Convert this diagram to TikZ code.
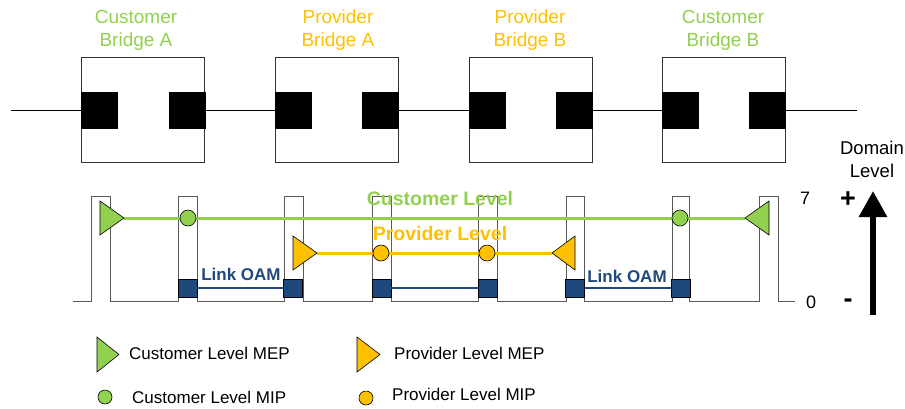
\documentclass[tikz,border=0pt]{standalone}
\usepackage{fontspec}
\setmainfont{Liberation Sans}
\usetikzlibrary{arrows.meta}
\definecolor{cgreen}{HTML}{92D050}
\definecolor{corange}{HTML}{FFC000}
\definecolor{cblue}{HTML}{1F497D}
\definecolor{cgray}{HTML}{595959}
\tikzset{
  bridgebox/.style={draw=black!80, line width=0.9pt, fill=white, minimum width=123pt, minimum height=105pt, inner sep=0pt},
  portbox/.style={fill=black, draw=black, minimum width=36pt, minimum height=36pt, inner sep=0pt},
  blabel/.style={align=center, font=\fontsize{19}{23}\selectfont, inner sep=0pt},
  oamblock/.style={fill=cblue, draw=black, line width=0.6pt, minimum width=19pt, minimum height=18pt, inner sep=0pt},
  mip/.style={circle, draw=black, line width=0.6pt, minimum size=16pt, inner sep=0pt},
  lmip/.style={circle, draw=black, line width=0.6pt, minimum size=14pt, inner sep=0pt},
  mepshape/.style={draw=black, line width=0.6pt},
  legtext/.style={anchor=west, inner sep=0pt, font=\fontsize{17}{20}\selectfont},
  lvltext/.style={inner sep=0pt, font=\bfseries\fontsize{19.5}{23}\selectfont},
  oamtext/.style={inner sep=0pt, font=\bfseries\fontsize{17}{20}\selectfont, text=cblue},
}
\begin{document}
\begin{tikzpicture}[x=1pt, y=-1pt]
\useasboundingbox (0,0) rectangle (905,408);

% bridges
\node[bridgebox] (cba) at (143,109.5) {};
\node[bridgebox] (pba) at (336.5,109.5) {};
\node[bridgebox] (pbb) at (530.5,109.5) {};
\node[bridgebox] (cbb) at (723.5,109.5) {};
\foreach \b in {cba,pba,pbb,cbb}{
  \node[portbox, anchor=west] (\b L) at ([yshift=-1pt]\b.west) {};
  \node[portbox, anchor=east] (\b R) at ([yshift=-1pt]\b.east) {};
}
\coordinate (lineL) at (11,110.5);
\coordinate (lineR) at (857,110.5);
\draw[line width=0.9pt] (lineL) -- (cbaL.west);
\draw[line width=0.9pt] (cbaR.east) -- (pbaL.west);
\draw[line width=0.9pt] (pbaR.east) -- (pbbL.west);
\draw[line width=0.9pt] (pbbR.east) -- (cbbL.west);
\draw[line width=0.9pt] (cbbR.east) -- (lineR);

\node[blabel, text=cgreen] (tcba) at (136,30) {Customer\\Bridge A};
\node[blabel, text=corange] (tpba) at (338,30) {Provider\\Bridge A};
\node[blabel, text=corange] (tpbb) at (530,30) {Provider\\Bridge B};
\node[blabel, text=cgreen] (tcbb) at (723,30) {Customer\\Bridge B};

% level profile
\draw[cgray, line width=0.9pt] (73,301.5) -- (91,301.5) -- (91,196) -- (110,196) -- (110,301.5)
  -- (178,301.5) -- (178,196) -- (197,196) -- (197,301.5)
  -- (284,301.5) -- (284,196) -- (303,196) -- (303,301.5)
  -- (372,301.5) -- (372,196) -- (391,196) -- (391,301.5)
  -- (478,301.5) -- (478,196) -- (497,196) -- (497,301.5)
  -- (566,301.5) -- (566,196) -- (584,196) -- (584,301.5)
  -- (672,301.5) -- (672,196) -- (689,196) -- (689,301.5)
  -- (759,301.5) -- (759,196) -- (778,196) -- (778,301.5) -- (795,301.5);

% Link OAM
\node[oamblock] (o1) at (187.5,288) {};
\node[oamblock] (o2) at (293,288) {};
\node[oamblock] (o3) at (381.5,288) {};
\node[oamblock] (o4) at (487.5,288) {};
\node[oamblock] (o5) at (575,288) {};
\node[oamblock] (o6) at (680.5,288) {};
\draw[cblue, line width=1.2pt] (o1.east) -- (o2.west);
\draw[cblue, line width=1.2pt] (o3.east) -- (o4.west);
\draw[cblue, line width=1.2pt] (o5.east) -- (o6.west);
\node[oamtext] (lo1) at (241,274) {Link OAM};
\node[oamtext] (lo2) at (627,276) {Link OAM};

% customer level
\coordinate (gL) at (124,218);
\coordinate (gR) at (745,218);
\draw[cgreen, line width=3pt] (gL) -- (gR);
\draw[mepshape, fill=cgreen] (100,201) -- (100,235) -- (gL) -- cycle;
\draw[mepshape, fill=cgreen] (769,201) -- (769,235) -- (gR) -- cycle;
\node[mip, fill=cgreen] (gm1) at (188,218) {};
\node[mip, fill=cgreen] (gm2) at (680,218) {};
\node[lvltext, text=cgreen] (tcl) at (440,199) {Customer Level};

% provider level
\coordinate (oL) at (317,253);
\coordinate (oR) at (552,253);
\draw[corange, line width=3pt] (oL) -- (oR);
\draw[mepshape, fill=corange] (293,236) -- (293,270) -- (oL) -- cycle;
\draw[mepshape, fill=corange] (575,236) -- (575,270) -- (oR) -- cycle;
\node[mip, fill=corange] (om1) at (381,253) {};
\node[mip, fill=corange] (om2) at (487,253) {};
\node[lvltext, text=corange] (tpl) at (440,234) {Provider Level};

% scale
\node[inner sep=0pt, font=\fontsize{18}{20}\selectfont] (n7) at (805,198) {7};
\node[inner sep=0pt, font=\fontsize{18}{20}\selectfont] (n0) at (811,302) {0};
\node[inner sep=0pt, font=\bfseries\fontsize{27}{29}\selectfont] (plus) at (848,200) {+};
\node[inner sep=0pt, font=\bfseries\fontsize{27}{29}\selectfont] (minus) at (848,303) {-};
\coordinate (aB) at (873,315);
\coordinate (aT) at (873,191);
\draw[line width=6pt, -{Triangle[width=27pt,length=26pt]}] (aB) -- (aT);
\node[blabel, font=\fontsize{18.5}{23}\selectfont] (dom) at (872,159) {Domain\\Level};

% legend
\draw[mepshape, fill=cgreen] (97,337) -- (97,372) -- (119,354.5) -- cycle;
\node[legtext] (l1) at (129,353) {Customer Level MEP};
\draw[mepshape, fill=corange] (357,337) -- (357,372) -- (380,354.5) -- cycle;
\node[legtext] (l2) at (394,353) {Provider Level MEP};
\node[lmip, fill=cgreen] (lc1) at (105,397) {};
\node[legtext] (l3) at (132,397) {Customer Level MIP};
\node[lmip, fill=corange] (lc2) at (366,398) {};
\node[legtext] (l4) at (392,394) {Provider Level MIP};
\end{tikzpicture}
\end{document}
